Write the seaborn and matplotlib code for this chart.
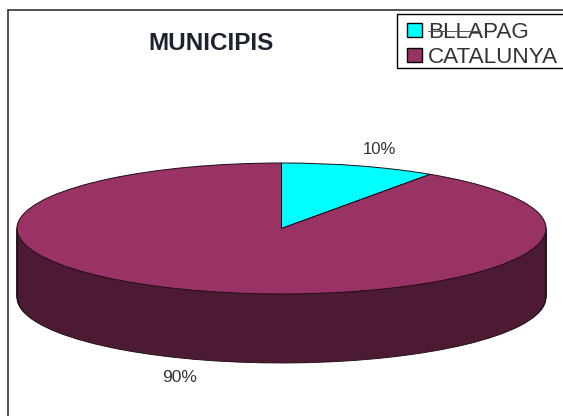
import matplotlib
matplotlib.use("Agg")
import matplotlib.pyplot as plt
from matplotlib.patches import Rectangle
from matplotlib.lines import Line2D
import seaborn as sns

categories = ["BLLAPAG", "CATALUNYA"]
shares = [9.5, 90.5]  # the slice reads slightly under its printed, rounded 10%
title = "MUNICIPIS"
top_colors = ["#00ffff", "#993366"]
side_color = "#4d1a33"
outline = "#1e0c16"

W, H = 563, 416
sns.set_theme(style="white")
plt.rcParams["font.family"] = ["Liberation Sans", "DejaVu Sans"]
palette = sns.color_palette(top_colors)

fig = plt.figure(figsize=(W / 100, H / 100), dpi=100, facecolor="white")

# the unit circle is stretched into the ellipse of the pie's top face
cx, cy, a, b, depth = 281.5, 228.5, 264.5, 65.5, 69
ax = fig.add_axes([(cx - a) / W, 1 - (cy + b) / H, 2 * a / W, 2 * b / H])

# side wall: the same pie repeated downward, outline layer first, fill layer on top
steps = 70
for radius, colour, lw in [(1, outline, 0.6), (0.996, side_color, 0)]:
    for i in range(steps, 0, -1):
        ax.pie(shares, startangle=90, counterclock=False,
               center=(0, -(depth / b) * i / steps), radius=radius,
               colors=[colour, colour], frame=False,
               wedgeprops=dict(linewidth=lw, edgecolor=colour, clip_on=False))

wedges, _ = ax.pie(shares, startangle=90, counterclock=False, radius=1, colors=palette,
                   frame=False,
                   wedgeprops=dict(linewidth=0.7, edgecolor=outline, clip_on=False))
ax.set_aspect("auto")
ax.set_xlim(-1, 1)
ax.set_ylim(-1, 1)
ax.axis("off")


def px(x, y):
    return x / W, 1 - y / H


# outer frame: its right and bottom sides lie beyond the image
fig.add_artist(Line2D([8 / W, 8 / W], [0, 1 - 10 / H], color="#333333", lw=1.2))
fig.add_artist(Line2D([8 / W, 1], [1 - 10 / H, 1 - 10 / H], color="#333333", lw=1.2))

fig.text(*px(211.5, 43), title, fontsize=17.5, fontweight="bold", color="#1c2230",
         ha="center", va="center")
fig.text(*px(379, 149), f"{round(shares[0])}%", fontsize=12, color="#333333",
         ha="center", va="center")
fig.text(*px(180, 377), f"{round(shares[1])}%", fontsize=12.5, color="#333333",
         ha="center", va="center")

# legend box also runs off the right edge
fig.add_artist(Rectangle(px(397, 68), 200 / W, 54 / H, transform=fig.transFigure,
                         facecolor="white", edgecolor="black", lw=1.0))
leg = fig.legend(wedges, categories, loc="upper left", bbox_to_anchor=px(407, 22),
                 bbox_transform=fig.transFigure, fontsize=16.2, frameon=False,
                 borderaxespad=0, borderpad=0, handlelength=0.66, handleheight=0.58,
                 handletextpad=0.27, labelspacing=0.18)
for h in leg.legend_handles:
    h.set_edgecolor("black")
    h.set_linewidth(1.0)
for t in leg.get_texts():
    t.set_color("#333333")
fig.add_artist(Line2D([428 / W, 480 / W], [1 - 30.5 / H, 1 - 30.5 / H], color="#555555",
                      lw=0.7, zorder=6))

fig.savefig("out.png", dpi=100)
